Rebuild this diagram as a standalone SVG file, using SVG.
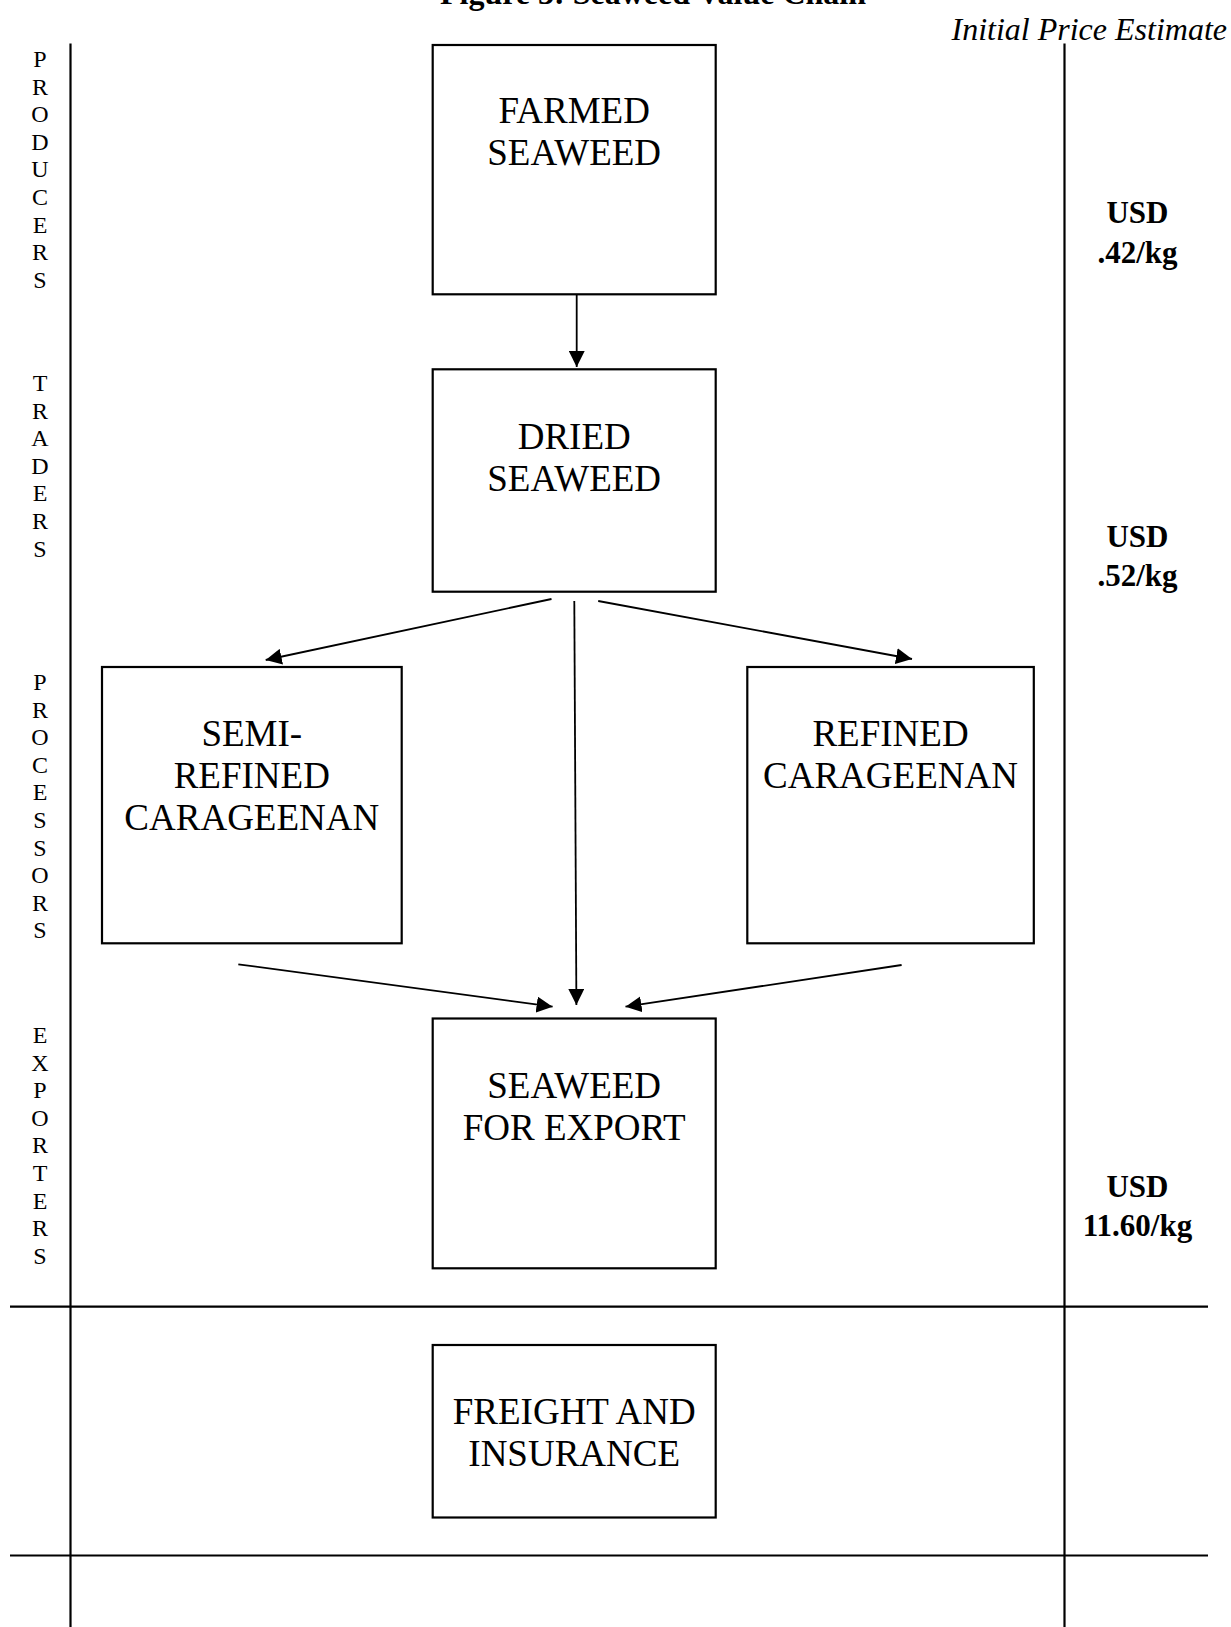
<svg xmlns="http://www.w3.org/2000/svg" width="1231" height="1627" viewBox="0 0 1231 1627">
<defs>
<style>
.bg{fill:#fff}
.rule{stroke:#000;stroke-width:2.2;fill:none}
.box{fill:#fff;stroke:#000;stroke-width:2.2}
.lbl{font-family:"Liberation Serif","Times New Roman",serif;font-size:37px;fill:#000;text-anchor:middle}
.side{font-family:"Liberation Serif","Times New Roman",serif;font-size:24px;fill:#000;text-anchor:middle}
.price{font-family:"Liberation Serif","Times New Roman",serif;font-size:31px;font-weight:bold;fill:#000;text-anchor:middle}
.conn{stroke:#000;stroke-width:1.8;fill:none;marker-end:url(#ah)}
</style>
<marker id="ah" viewBox="0 0 16 16" refX="16" refY="8" markerWidth="16" markerHeight="16" markerUnits="userSpaceOnUse" orient="auto">
<path d="M0,0 L16,8 L0,16 Z" fill="#000"/>
</marker>
</defs>
<rect class="bg" x="0" y="0" width="1231" height="1627"/>

<g id="title">
<text x="653" y="4" font-family="'Liberation Serif','Times New Roman',serif" font-size="32" font-weight="bold" text-anchor="middle">Figure 3: Seaweed Value Chain</text>
<text x="1227" y="40" font-family="'Liberation Serif','Times New Roman',serif" font-size="32" font-style="italic" text-anchor="end">Initial Price Estimate</text>
</g>

<g id="grid">
<line class="rule" x1="70.5" y1="43.5" x2="70.5" y2="1627"/>
<line class="rule" x1="1064.5" y1="43.5" x2="1064.5" y2="1627"/>
<line class="rule" x1="10" y1="1306.7" x2="1208" y2="1306.7"/>
<line class="rule" x1="10" y1="1555.5" x2="1208" y2="1555.5"/>
</g>

<g id="stage-labels">
<text class="side" x="40"><tspan x="40" y="67">P</tspan><tspan x="40" dy="27.6">R</tspan><tspan x="40" dy="27.6">O</tspan><tspan x="40" dy="27.6">D</tspan><tspan x="40" dy="27.6">U</tspan><tspan x="40" dy="27.6">C</tspan><tspan x="40" dy="27.6">E</tspan><tspan x="40" dy="27.6">R</tspan><tspan x="40" dy="27.6">S</tspan></text>
<text class="side" x="40"><tspan x="40" y="391">T</tspan><tspan x="40" dy="27.6">R</tspan><tspan x="40" dy="27.6">A</tspan><tspan x="40" dy="27.6">D</tspan><tspan x="40" dy="27.6">E</tspan><tspan x="40" dy="27.6">R</tspan><tspan x="40" dy="27.6">S</tspan></text>
<text class="side" x="40"><tspan x="40" y="690">P</tspan><tspan x="40" dy="27.6">R</tspan><tspan x="40" dy="27.6">O</tspan><tspan x="40" dy="27.6">C</tspan><tspan x="40" dy="27.6">E</tspan><tspan x="40" dy="27.6">S</tspan><tspan x="40" dy="27.6">S</tspan><tspan x="40" dy="27.6">O</tspan><tspan x="40" dy="27.6">R</tspan><tspan x="40" dy="27.6">S</tspan></text>
<text class="side" x="40"><tspan x="40" y="1043">E</tspan><tspan x="40" dy="27.6">X</tspan><tspan x="40" dy="27.6">P</tspan><tspan x="40" dy="27.6">O</tspan><tspan x="40" dy="27.6">R</tspan><tspan x="40" dy="27.6">T</tspan><tspan x="40" dy="27.6">E</tspan><tspan x="40" dy="27.6">R</tspan><tspan x="40" dy="27.6">S</tspan></text>
</g>

<g id="prices">
<text class="price" x="1137.5" y="223">USD</text>
<text class="price" x="1137.5" y="262.5">.42/kg</text>
<text class="price" x="1137.5" y="547">USD</text>
<text class="price" x="1137.5" y="586">.52/kg</text>
<text class="price" x="1137.5" y="1197">USD</text>
<text class="price" x="1137.5" y="1235.5">11.60/kg</text>
</g>

<g id="connectors">
<line class="conn" x1="576.7" y1="295" x2="576.7" y2="367"/>
<line class="conn" x1="551.5" y1="599" x2="265.7" y2="660"/>
<line class="conn" x1="574.3" y1="601" x2="576.4" y2="1005"/>
<line class="conn" x1="598.2" y1="601" x2="912" y2="659"/>
<line class="conn" x1="238.3" y1="964.3" x2="552.6" y2="1006.7"/>
<line class="conn" x1="901.6" y1="965" x2="625.5" y2="1006.7"/>
</g>

<g id="node-farmed">
<rect class="box" x="432.7" y="45" width="283" height="249.3"/>
<text class="lbl" x="574.2" y="123">FARMED</text>
<text class="lbl" x="574.2" y="165">SEAWEED</text>
</g>

<g id="node-dried">
<rect class="box" x="432.7" y="369.3" width="283" height="222.4"/>
<text class="lbl" x="574.2" y="449">DRIED</text>
<text class="lbl" x="574.2" y="491">SEAWEED</text>
</g>

<g id="node-semi">
<rect class="box" x="102" y="667" width="299.7" height="276.3"/>
<text class="lbl" x="251.8" y="746">SEMI-</text>
<text class="lbl" x="251.8" y="788">REFINED</text>
<text class="lbl" x="251.8" y="830">CARAGEENAN</text>
</g>

<g id="node-refined">
<rect class="box" x="747.3" y="667" width="286.5" height="276.3"/>
<text class="lbl" x="890.5" y="746">REFINED</text>
<text class="lbl" x="890.5" y="788">CARAGEENAN</text>
</g>

<g id="node-export">
<rect class="box" x="432.7" y="1018.5" width="283" height="249.8"/>
<text class="lbl" x="574.2" y="1098">SEAWEED</text>
<text class="lbl" x="574.2" y="1140">FOR EXPORT</text>
</g>

<g id="node-freight">
<rect class="box" x="432.7" y="1345" width="283" height="172.5"/>
<text class="lbl" x="574.2" y="1424">FREIGHT AND</text>
<text class="lbl" x="574.2" y="1466">INSURANCE</text>
</g>
</svg>
